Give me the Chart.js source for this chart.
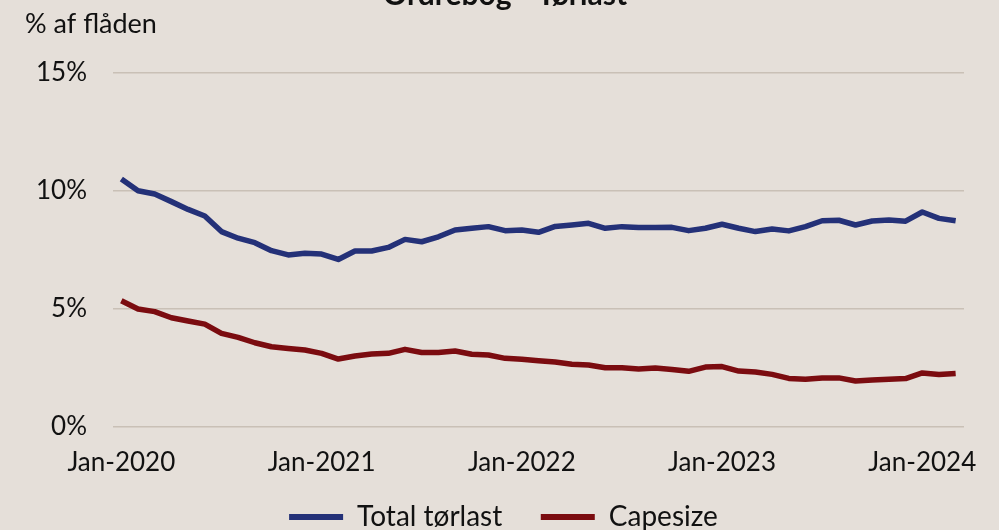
<!DOCTYPE html>
<html>
<head>
<meta charset="utf-8">
<script src="https://cdn.jsdelivr.net/npm/chart.js@4.4.1/dist/chart.umd.min.js"></script>
<style>
  html, body { margin: 0; padding: 0; background: #e5dfd9; }
  #wrap { position: relative; width: 999px; height: 530px; }
</style>
</head>
<body>
<div id="wrap"><canvas id="c" width="999" height="530"></canvas></div>
<script>
const chartTitle = "Ordrebog - Tørlast";
const axisLabel = "% af flåden";
const seriesNames = ["Total tørlast", "Capesize"];

const monthNames = ["Jan","Feb","Mar","Apr","May","Jun","Jul","Aug","Sep","Oct","Nov","Dec"];
const years = [2020, 2021, 2022, 2023, 2024];
const categories = [];
years.forEach(y => monthNames.forEach((m, i) => {
  if (y < 2024 || i < 3) categories.push(m + "-" + y);
}));

const totalDry = [
  10.51, 10.01, 9.87, 9.55, 9.22, 8.94, 8.28, 8.00, 7.81, 7.47, 7.29, 7.36,
  7.33, 7.10, 7.46, 7.46, 7.61, 7.95, 7.85, 8.06, 8.35, 8.42, 8.49, 8.32,
  8.35, 8.25, 8.50, 8.56, 8.63, 8.42, 8.49, 8.45, 8.45, 8.46, 8.32, 8.42,
  8.59, 8.42, 8.28, 8.39, 8.31, 8.49, 8.74, 8.76, 8.56, 8.73, 8.77, 8.72,
  9.11, 8.84, 8.74
];
const capesize = [
  5.35, 5.00, 4.89, 4.63, 4.49, 4.36, 3.97, 3.80, 3.57, 3.40, 3.33, 3.26,
  3.12, 2.88, 3.01, 3.09, 3.12, 3.29, 3.16, 3.16, 3.22, 3.08, 3.05, 2.91,
  2.87, 2.81, 2.75, 2.66, 2.63, 2.51, 2.51, 2.46, 2.50, 2.44, 2.36, 2.54,
  2.56, 2.37, 2.33, 2.23, 2.06, 2.02, 2.08, 2.08, 1.95, 1.99, 2.02, 2.05,
  2.29, 2.22, 2.27
];
const yTicks = [0, 5, 10, 15];

const FONT = "Lato";
const textColor = "#111111";
const gridColor = "#c9c0b6";
const blue = "#243178";
const red = "#7b0c10";

const overlay = {
  id: "overlay",
  afterLayout(chart) {
    if (chart.legend) { chart.legend.left = 43; }
  },
  afterDraw(chart) {
    const ctx = chart.ctx;
    ctx.save();
    ctx.fillStyle = textColor;
    ctx.font = "bold 30px " + FONT;
    ctx.textAlign = "center";
    ctx.textBaseline = "alphabetic";
    ctx.fillText(chartTitle, 505, 5);
    ctx.font = "27px " + FONT;
    ctx.textAlign = "left";
    ctx.textBaseline = "middle";
    ctx.fillText(axisLabel, 25, 24);
    ctx.restore();
  }
};

new Chart(document.getElementById("c"), {
  type: "line",
  data: {
    labels: categories,
    datasets: [
      { label: seriesNames[0], data: totalDry, borderColor: blue, backgroundColor: blue,
        borderWidth: 5.5, pointRadius: 0, tension: 0, borderJoinStyle: "round" },
      { label: seriesNames[1], data: capesize, borderColor: red, backgroundColor: red,
        borderWidth: 5.5, pointRadius: 0, tension: 0, borderJoinStyle: "round" }
    ]
  },
  options: {
    responsive: false,
    animation: false,
    layout: { padding: { left: 0, right: 35, top: 73, bottom: 0 } },
    plugins: {
      legend: {
        position: "bottom",
        maxHeight: 41,
        labels: {
          color: textColor,
          font: { family: FONT, size: 28 },
          boxWidth: 54,
          boxHeight: 6,
          padding: 14,
          generateLabels: function (chart) {
            const items = Chart.defaults.plugins.legend.labels.generateLabels(chart);
            items.forEach((it, i) => {
              it.lineWidth = 0;
              if (i === 0) it.text = it.text + "\u2003\u2009";
            });
            return items;
          }
        }
      },
      tooltip: { enabled: false },
      title: { display: false }
    },
    scales: {
      x: {
        offset: true,
        afterFit: s => { s.height = 62; },
        grid: { display: false, drawTicks: false },
        border: { display: false },
        ticks: {
          autoSkip: false,
          maxRotation: 0,
          color: textColor,
          font: { family: FONT, size: 26 },
          padding: 20,
          callback: function (v, i) { return i % 12 === 0 ? categories[i] : ""; }
        }
      },
      y: {
        min: 0, max: 15,
        afterFit: s => { s.width = 113; },
        afterBuildTicks: s => { s.ticks = yTicks.map(v => ({ value: v })); },
        grid: { color: gridColor, lineWidth: 1.5, drawTicks: false },
        border: { display: false },
        ticks: {
          color: textColor,
          font: { family: FONT, size: 26 },
          padding: 26,
          callback: v => v + "%"
        }
      }
    }
  },
  plugins: [overlay]
});
</script>
</body>
</html>
